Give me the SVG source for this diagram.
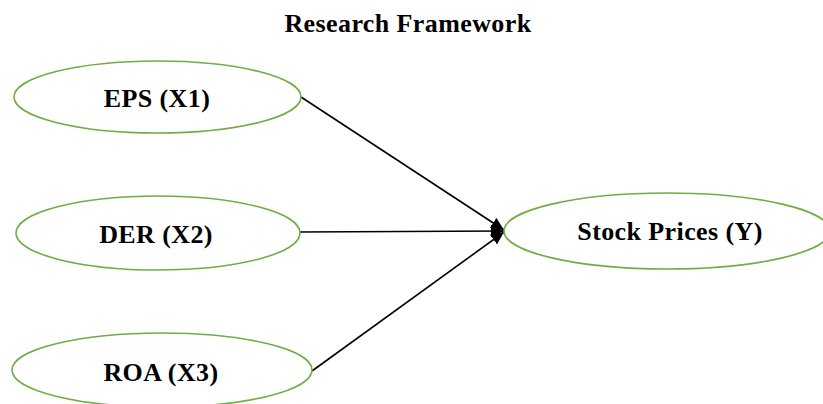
<svg xmlns="http://www.w3.org/2000/svg" width="823" height="404" viewBox="0 0 823 404">
  <style>
    .node ellipse { fill: #ffffff; stroke: #70AD47; stroke-width: 1.6; }
    .label { font-family: "Liberation Serif", "Times New Roman", serif; font-weight: bold; font-size: 26px; letter-spacing: 0.4px; fill: #000000; text-anchor: middle; }
    .title { font-family: "Liberation Serif", "Times New Roman", serif; font-weight: bold; font-size: 26px; letter-spacing: 0.4px; fill: #000000; text-anchor: middle; }
    .edge { stroke: #000000; stroke-width: 1.6; fill: none; marker-end: url(#arrow); }
  </style>
  <defs>
    <marker id="arrow" viewBox="0 0 10 10" refX="10" refY="5" markerWidth="13" markerHeight="12" markerUnits="userSpaceOnUse" orient="auto" preserveAspectRatio="none">
      <path d="M0,0 L10,5 L0,10 Z" fill="#000000"/>
    </marker>
  </defs>
  <rect width="823" height="404" fill="#ffffff"/>

  <text class="title" x="408" y="32">Research Framework</text>

  <g id="connectors">
    <line class="edge" x1="301" y1="97" x2="504" y2="230"/>
    <line class="edge" x1="300" y1="232" x2="504" y2="231"/>
    <line class="edge" x1="312" y1="371" x2="504" y2="232"/>
  </g>

  <g id="eps" class="node">
    <ellipse cx="157.5" cy="97" rx="143.5" ry="36"/>
    <text class="label" x="157" y="107">EPS (X1)</text>
  </g>
  <g id="der" class="node">
    <ellipse cx="158" cy="233" rx="142" ry="37"/>
    <text class="label" x="156" y="243">DER (X2)</text>
  </g>
  <g id="roa" class="node">
    <ellipse cx="162" cy="370" rx="150" ry="37"/>
    <text class="label" x="161" y="381">ROA (X3)</text>
  </g>
  <g id="stock" class="node">
    <ellipse cx="667" cy="231" rx="163" ry="38"/>
    <text class="label" x="670" y="240">Stock Prices (Y)</text>
  </g>
</svg>
